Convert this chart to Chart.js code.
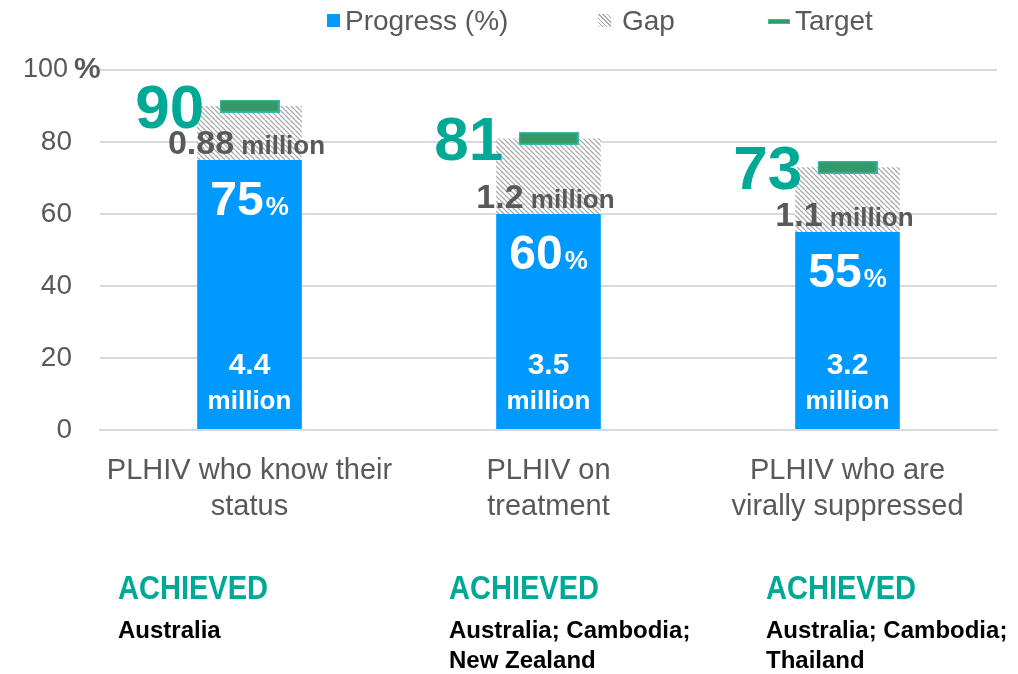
<!DOCTYPE html>
<html>
<head>
<meta charset="utf-8">
<script src="https://cdn.jsdelivr.net/npm/chart.js@4.4.1/dist/chart.umd.min.js"></script>
<style>
  body { margin: 0; background: #fff; font-family: "Liberation Sans", Arial, sans-serif; }
  #wrap { position: relative; width: 1018px; height: 674px; overflow: hidden; }
  #cascade { position: absolute; left: 0; top: 0; }
  .lg { position: absolute; top: 3px; font-size: 28px; line-height: 36px; color: #595959; white-space: nowrap; }
  .lg i { position: absolute; display: block; }
  .ach { position: absolute; top: 570px; font-family: "Liberation Sans", Arial, sans-serif; font-weight: bold; }
  .ach .hd { color: #00a896; font-size: 33px; line-height: 36px; transform: scaleX(0.88); transform-origin: left center; }
  .ach .who { color: #000; font-size: 24px; line-height: 30px; margin-top: 9px; }
</style>
</head>
<body>
<div id="wrap">
  <canvas id="cascade" width="1018" height="674"></canvas>

  <div class="lg" style="left:327px"><i style="left:0;top:11px;width:13px;height:13px;background:#0099ff"></i><span style="margin-left:18px">Progress (%)</span></div>
  <div class="lg" style="left:598px"><i style="left:0;top:11px;width:13px;height:13px;background:repeating-linear-gradient(45deg,#aaa 0 1px,#fff 1px 3px)"></i><span style="margin-left:24px">Gap</span></div>
  <div class="lg" style="left:768px"><i style="left:0;top:16px;width:22px;height:5px;background:#2f9a6a;border:1px solid #2fbfa8;box-sizing:border-box"></i><span style="margin-left:27px">Target</span></div>

  <div id="achieved"></div>
</div>

<script>
// cascade values (% of PLHIV)
const categories = [['PLHIV who know their', 'status'], ['PLHIV on', 'treatment'], ['PLHIV who are', 'virally suppressed']];
const progress = [75, 60, 55];
const gap = [15, 21, 18];
const targets = [90, 81, 73];
const peopleMillions = ['4.4', '3.5', '3.2'];
const gapMillions = ['0.88', '1.2', '1.1'];
const yTicks = [0, 20, 40, 60, 80, 100];
const achievedBy = [['Australia'], ['Australia; Cambodia;', 'New Zealand'], ['Australia; Cambodia;', 'Thailand']];
const achievedLeft = [118, 449, 766];

const FONT = '"Liberation Sans", Arial, sans-serif';
const GREY = '#595959';
const TEAL = '#00a896';

// hatch for the gap bars
function hatch() {
    const c = document.createElement('canvas');
    c.width = 5; c.height = 5;
    const g = c.getContext('2d');
    g.fillStyle = '#fff';
    g.fillRect(0, 0, 5, 5);
    g.strokeStyle = '#aaaaaa';
    g.lineWidth = 1.3;
    for (let k = -5; k <= 5; k += 5) {
        g.beginPath();
        g.moveTo(k, 0);
        g.lineTo(k + 5, 5);
        g.stroke();
    }
    return g.createPattern(c, 'repeat');
}

// little green bar used as the target point
function targetMark() {
    const c = document.createElement('canvas');
    c.width = 60; c.height = 13;
    const g = c.getContext('2d');
    g.fillStyle = '#339966';
    g.fillRect(0, 0, 60, 13);
    g.strokeStyle = '#33bbaa';
    g.lineWidth = 1.5;
    g.strokeRect(0.75, 0.75, 58.5, 11.5);
    return c;
}

const barLabels = {
    id: 'barLabels',
    afterDatasetsDraw(chart) {
        const ctx = chart.ctx;
        const prog = chart.getDatasetMeta(0).data;
        const tgt = chart.getDatasetMeta(2).data;
        ctx.save();
        ctx.textBaseline = 'alphabetic';
        prog.forEach(function (bar, i) {
            const left = bar.x - bar.width / 2;

            // 75% inside the bar
            ctx.fillStyle = '#fff';
            ctx.font = 'bold 48px ' + FONT;
            const nw = ctx.measureText(String(progress[i])).width;
            ctx.font = 'bold 26px ' + FONT;
            const pw = ctx.measureText('%').width;
            let x = bar.x - (nw + pw + 2) / 2;
            ctx.textAlign = 'left';
            ctx.font = 'bold 48px ' + FONT;
            ctx.fillText(String(progress[i]), x, bar.y + 55);
            ctx.font = 'bold 26px ' + FONT;
            ctx.fillText('%', x + nw + 2, bar.y + 55);

            // people on the bar foot
            ctx.textAlign = 'center';
            ctx.font = 'bold 30px ' + FONT;
            ctx.fillText(peopleMillions[i], bar.x, bar.base - 55);
            ctx.font = 'bold 26px ' + FONT;
            ctx.fillText('million', bar.x, bar.base - 20);

            // gap size
            ctx.fillStyle = GREY;
            ctx.font = 'bold 34px ' + FONT;
            const gw = ctx.measureText(gapMillions[i]).width;
            ctx.font = 'bold 26px ' + FONT;
            const mw = ctx.measureText(' million').width;
            x = bar.x - 3 - (gw + mw) / 2;
            ctx.textAlign = 'left';
            ctx.font = 'bold 34px ' + FONT;
            ctx.fillText(gapMillions[i], x, bar.y - 6);
            ctx.font = 'bold 26px ' + FONT;
            ctx.fillText(' million', x + gw, bar.y - 6);

            // target number
            ctx.fillStyle = TEAL;
            ctx.textAlign = 'right';
            ctx.font = 'bold 62px ' + FONT;
            ctx.fillText(String(targets[i]), left + 7, tgt[i].y + 22);
        });

        // "100%" on the top tick
        const y = chart.scales.y;
        const y100 = y.getPixelForValue(100);
        ctx.textBaseline = 'middle';
        ctx.fillStyle = GREY;
        ctx.textAlign = 'right';
        ctx.font = '27px ' + FONT;
        ctx.fillText('100', 68, y100);
        ctx.textAlign = 'left';
        ctx.font = 'bold 30px ' + FONT;
        ctx.fillText('%', 74, y100);
        ctx.restore();
    }
};

const cascadeChart = new Chart(document.getElementById('cascade').getContext('2d'), {
    type: 'bar',
    data: {
        labels: categories,
        datasets: [{
            label: 'Progress (%)',
            data: progress,
            backgroundColor: '#0099ff',
            stack: 'cascade',
            order: 1,
            categoryPercentage: 1,
            barPercentage: 0.35
        }, {
            label: 'Gap',
            data: gap,
            backgroundColor: hatch(),
            stack: 'cascade',
            order: 1,
            categoryPercentage: 1,
            barPercentage: 0.35
        }, {
            type: 'line',
            label: 'Target',
            data: targets,
            stack: 'target',
            order: 0,
            showLine: false,
            pointStyle: targetMark(),
            pointRadius: 6,
            pointHoverRadius: 6
        }]
    },
    options: {
        responsive: false,
        animation: false,
        events: [],
        layout: { padding: { top: 70, right: 21, bottom: 0, left: 0 } },
        plugins: {
            legend: { display: false },
            tooltip: { enabled: false }
        },
        scales: {
            x: {
                stacked: true,
                grid: { display: false },
                border: { color: '#d9d9d9', width: 2 },
                ticks: { color: GREY, font: { family: FONT, size: 29, lineHeight: 1.24 }, padding: 15, maxRotation: 0, autoSkip: false },
                afterFit: function (s) { s.height = 674 - 430; }
            },
            y: {
                stacked: true,
                min: 0,
                max: 100,
                afterBuildTicks: function (s) { s.ticks = yTicks.map(v => ({ value: v })); },
                grid: { color: '#d9d9d9', lineWidth: 2, drawTicks: false },
                border: { display: false },
                ticks: {
                    color: GREY,
                    font: { family: FONT, size: 28 },
                    padding: 28,
                    callback: v => (v === 100 ? '' : v)
                },
                afterFit: function (s) { s.width = 100; }
            }
        }
    },
    plugins: [barLabels]
});

// who reached each target
const achievedBox = document.getElementById('achieved');
achievedBy.forEach(function (names, i) {
    const d = document.createElement('div');
    d.className = 'ach';
    d.style.left = achievedLeft[i] + 'px';
    d.innerHTML = '<div class="hd">ACHIEVED</div><div class="who">' + names.join('<br>') + '</div>';
    achievedBox.appendChild(d);
});
</script>
</body>
</html>
